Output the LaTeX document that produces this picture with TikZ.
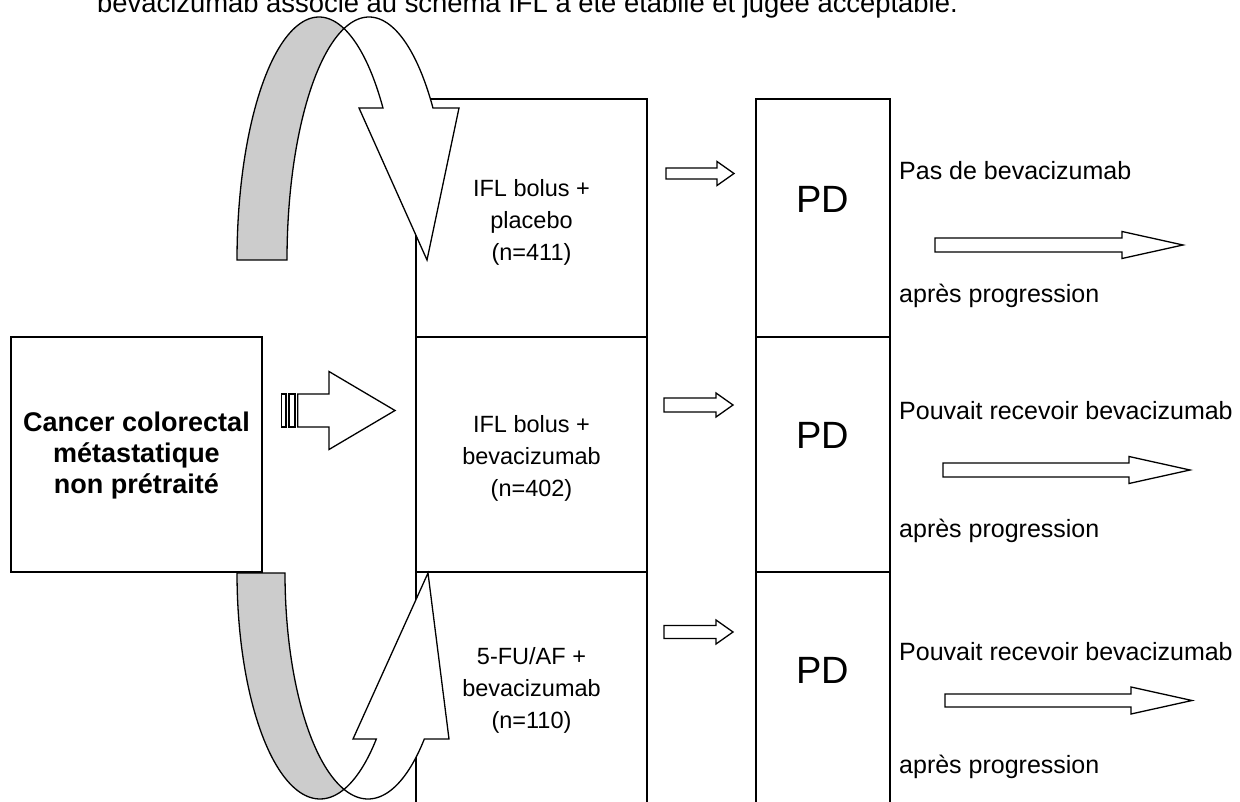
\documentclass[tikz,border=0pt]{standalone}
\usepackage{fontspec}
\setmainfont{Liberation Sans}
\definecolor{shade}{RGB}{204,204,204}
\newcommand\blkarrow[6]{\draw[arr] (#1,#2-#3) -- (#4,#2-#3) -- (#4,#2-#5) -- (#6,#2) -- (#4,#2+#5) -- (#4,#2+#3) -- (#1,#2+#3) -- cycle;}
\begin{document}
\begin{tikzpicture}[x=1pt,y=-1pt,
  cell/.style={draw, line width=1.8pt, inner sep=0pt, outer sep=0pt, anchor=north west},
  arr/.style={draw, line width=1.3pt, fill=white, line join=miter},
  back/.style={draw, line width=1.3pt, fill=shade},
  midtext/.style={align=center, font=\fontsize{23.5}{32}\selectfont},
  sidetext/.style={anchor=base west, font=\fontsize{25}{28}\selectfont, inner sep=0pt},
  pdtext/.style={anchor=base, font=\fontsize{38}{42}\selectfont, inner sep=0pt}]
\useasboundingbox (0,0) rectangle (1240,802);
\clip (0,0) rectangle (1240,802);

% top text (cut)
\node[anchor=base west, inner sep=0pt, font=\fontsize{27.4}{30}\selectfont] (top) at (97,13) {bevacizumab associé au schéma IFL a été établie et jugée acceptable.};

% left box
\node[cell, minimum width=251pt, minimum height=235pt] (src) at (11,337) {};
\node[align=center, font=\bfseries\fontsize{27}{31}\selectfont] (srct) at (136.5,456) {Cancer colorectal\\métastatique\\non prétraité};

% treatment column
\node[cell, minimum width=231pt, minimum height=238pt] (c1) at (416,99) {};
\node[cell, minimum width=231pt, minimum height=235pt] (c2) at (416,337) {};
\node[cell, minimum width=231pt, minimum height=245pt] (c3) at (416,572) {};
\node[midtext] (t1) at (531.5,222) {IFL bolus +\\placebo\\(n=411)};
\node[midtext] (t2) at (531.5,458) {IFL bolus +\\bevacizumab\\(n=402)};
\node[midtext] (t3) at (531.5,690) {5-FU/AF +\\bevacizumab\\(n=110)};

% PD column
\node[cell, minimum width=134pt, minimum height=238pt] (p1) at (756,99) {};
\node[cell, minimum width=134pt, minimum height=235pt] (p2) at (756,337) {};
\node[cell, minimum width=134pt, minimum height=245pt] (p3) at (756,572) {};
\node[pdtext] (pd1) at (823,213) {PD};
\node[pdtext] (pd2) at (823,448) {PD};
\node[pdtext] (pd3) at (823,683) {PD};

% right texts
\node[sidetext] (r1a) at (899,180) {Pas de bevacizumab};
\node[sidetext] (r1b) at (899,303) {après progression};
\node[sidetext] (r2a) at (899,419) {Pouvait recevoir bevacizumab};
\node[sidetext] (r2b) at (899,537) {après progression};
\node[sidetext] (r3a) at (899,660) {Pouvait recevoir bevacizumab};
\node[sidetext] (r3b) at (899,773) {après progression};

% small arrows
\blkarrow{666}{173.5}{5.5}{717}{12}{734}
\blkarrow{664}{405}{7}{716}{12}{733}
\blkarrow{664}{632}{6.5}{716}{12}{733}
% long arrows
\blkarrow{935}{245}{7}{1122}{13.5}{1183}
\blkarrow{943}{470}{7}{1129}{13.5}{1190}
\blkarrow{945}{700.5}{6.5}{1131}{13.5}{1192}

% striped arrow
\draw[arr] (281.7,394) rectangle (286,427);
\draw[arr] (289,394) rectangle (295,427);
\blkarrow{297.7}{410.5}{16.5}{329}{39}{395}

% top curved arrow
\draw[back] plot[domain=180:287.75, samples=60] ({319+82*cos(\x)},{260+243*sin(\x)})
  -- plot[domain=252.25:180, samples=60] ({369+82*cos(\x)},{260+243*sin(\x)}) -- cycle;
\draw[arr] plot[domain=252.25:321.28, samples=60] ({369+82*cos(\x)},{260+243*sin(\x)})
  -- (459,108) -- (427,260) -- (359,108)
  -- plot[domain=321.28:287.75, samples=60] ({319+82*cos(\x)},{260+243*sin(\x)}) -- cycle;

% bottom curved arrow
\draw[back] plot[domain=180:73.19, samples=60] ({320+83*cos(\x)},{573+226*sin(\x)})
  -- plot[domain=106.81:180, samples=60] ({368+83*cos(\x)},{573+226*sin(\x)}) -- cycle;
\draw[arr] plot[domain=106.81:47.27, samples=60] ({368+83*cos(\x)},{573+226*sin(\x)})
  -- (449,739) -- (428,573) -- (353,739)
  -- plot[domain=47.27:73.19, samples=60] ({320+83*cos(\x)},{573+226*sin(\x)}) -- cycle;
\end{tikzpicture}
\end{document}
